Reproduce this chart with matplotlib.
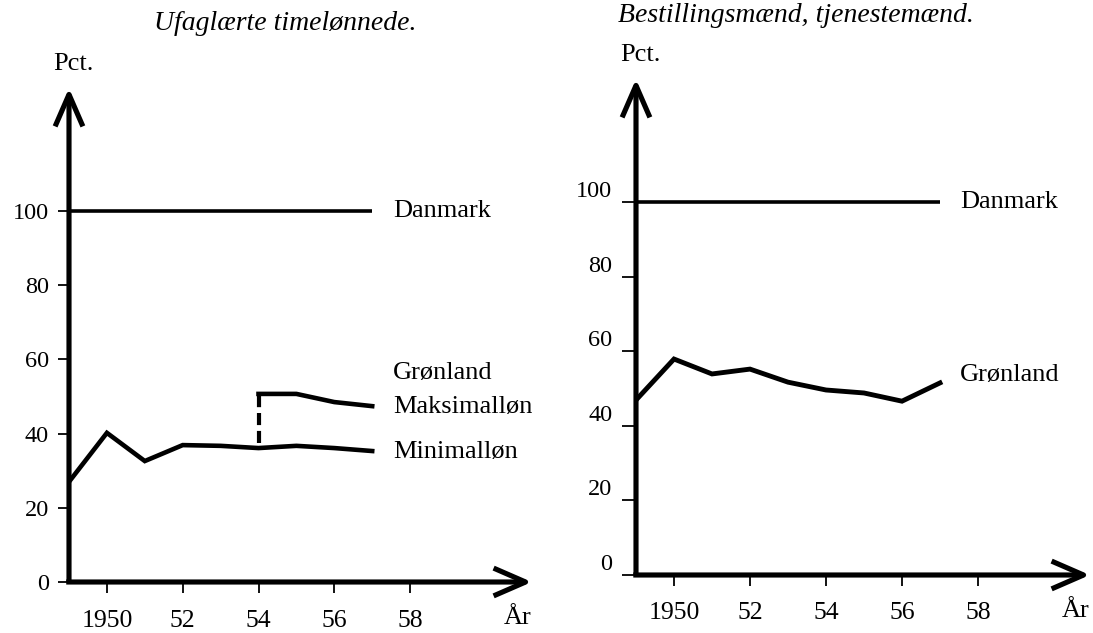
import matplotlib
matplotlib.use("Agg")
import matplotlib.pyplot as plt
from matplotlib.transforms import ScaledTranslation

plt.rcParams['font.family'] = ['Liberation Serif', 'DejaVu Serif']

# ---------------- data ----------------
years = [1949, 1950, 1951, 1952, 1953, 1954, 1955, 1956, 1957]
danmark = [100, 100, 100, 100, 100, 100, 100, 100, 100]

# Left panel: Ufaglærte timelønnede
left_min = [27.0, 40.2, 32.6, 36.9, 36.7, 36.1, 36.7, 36.1, 35.3]
left_max_years = [1954, 1955, 1956, 1957]
left_max = [50.7, 50.7, 48.5, 47.4]

# Right panel: Bestillingsmænd, tjenestemænd
right_gr = [46.9, 57.9, 53.9, 55.2, 51.7, 49.6, 48.8, 46.6, 51.5]

xticks = [1950, 1952, 1954, 1956, 1958]
xticklabels = ['1950', '52', '54', '56', '58']
yticks = [0, 20, 40, 60, 80, 100]
yticklabels = ['0', '20', '40', '60', '80', '100']

titles = ['Ufaglærte timelønnede.', 'Bestillingsmænd, tjenestemænd.']

# ---------------- figure ----------------
W, H = 1093, 633
fig = plt.figure(figsize=(W / 100, H / 100), dpi=100)


def make_axes(x0, y0, x1, y1, px_per_year, px_per_unit, xpad):
    ax = fig.add_axes([x0 / W, 1 - y0 / H, (x1 - x0) / W, (y0 - y1) / H])
    ax.set_xlim(1949, 1949 + (x1 - x0) / px_per_year)
    ax.set_ylim(0, (y0 - y1) / px_per_unit)
    for s in ax.spines.values():
        s.set_visible(False)
    ax.patch.set_alpha(0)
    arrow = dict(arrowstyle='->,head_length=1.15,head_width=0.5', lw=3.7,
                 color='black', shrinkA=0, shrinkB=0, mutation_scale=20,
                 capstyle='butt')
    ax.annotate('', xy=(1, 0), xytext=(-0.006, 0), xycoords='axes fraction',
                arrowprops=arrow, annotation_clip=False)
    ax.annotate('', xy=(0, 1), xytext=(0, 0), xycoords='axes fraction',
                arrowprops=arrow, annotation_clip=False)
    ax.set_xticks(xticks, labels=xticklabels)
    ax.set_yticks(yticks, labels=yticklabels)
    ax.tick_params(axis='x', direction='out', length=8, width=1.3,
                   labelsize=18.5, pad=xpad)
    ax.tick_params(axis='y', direction='out', length=8, width=1.3,
                   labelsize=17.5, pad=6.5)
    ax.text(1.0, 0, 'År', transform=ax.transAxes +
            ScaledTranslation(0, -0.36, fig.dpi_scale_trans),
            ha='right', va='center', fontsize=19)
    ax.text(0, 1, 'Pct.', transform=ax.transAxes +
            ScaledTranslation(0.04, 0.24, fig.dpi_scale_trans),
            ha='center', va='center', fontsize=19)
    return ax


# Left panel
axL = make_axes(69, 582, 532, 88, 37.9, 3.71, 12.5)
axL.plot(years, danmark, color='black', lw=2.6, solid_capstyle='butt')
axL.plot(years, left_min, color='black', lw=3.3, solid_joinstyle='miter')
axL.plot(left_max_years, left_max, color='black', lw=3.3)
i54 = years.index(left_max_years[0])
axL.plot([left_max_years[0], left_max_years[0]],
         [left_min[i54] + 1.4, left_max[0]], color='black', lw=3.0,
         linestyle=(0, (2.9, 1.4)))
lx = 1957.55
axL.text(lx, 100, 'Danmark', fontsize=19, va='center', ha='left')
axL.text(lx, 56.3, 'Grønland', fontsize=19, va='center', ha='left')
axL.text(lx, 47.2, 'Maksimalløn', fontsize=19, va='center', ha='left')
axL.text(lx, 35.0, 'Minimalløn', fontsize=19, va='center', ha='left')

# Right panel
axR = make_axes(636, 575, 1090, 79, 38.0, 3.73, 11.5)
axR.tick_params(axis='y', length=10, pad=7)
for lab in axR.get_yticklabels():
    lab.set_va('bottom')
axR.plot(years, danmark, color='black', lw=2.6, solid_capstyle='butt')
axR.plot(years, right_gr, color='black', lw=3.5, solid_joinstyle='miter')
rx = 1957.53
axR.text(rx, 100, 'Danmark', fontsize=19, va='center', ha='left')
axR.text(rx, 53.6, 'Grønland', fontsize=19, va='center', ha='left')

# Titles
fig.text(285 / W, 1 - 23 / H, titles[0], fontsize=20, style='italic',
         ha='center', va='center')
fig.text(796 / W, 1 - 15 / H, titles[1], fontsize=20, style='italic',
         ha='center', va='center')

fig.savefig('out.png', dpi=100)
